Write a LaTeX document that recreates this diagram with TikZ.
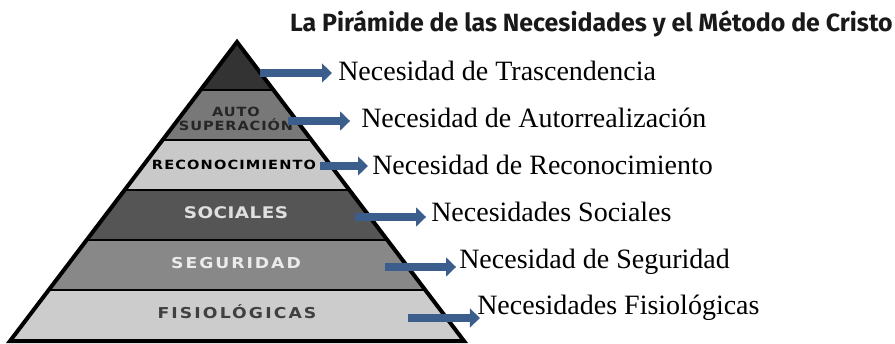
\documentclass[tikz,border=0pt]{standalone}
\usepackage{fontspec}
\setmainfont{Liberation Serif}
\newfontfamily\titlefont{Fira Sans}
\newfontfamily\bandfont[FakeStretch=1.15]{DejaVu Sans}
\usetikzlibrary{arrows.meta,calc,positioning}
\definecolor{needblue}{RGB}{59,94,140}
\definecolor{bandA}{RGB}{51,51,51}
\definecolor{bandB}{RGB}{120,120,120}
\definecolor{bandC}{RGB}{201,201,201}
\definecolor{bandD}{RGB}{85,85,85}
\definecolor{bandE}{RGB}{136,136,136}
\definecolor{bandF}{RGB}{204,204,204}
\tikzset{
	need/.style={anchor=base west,inner sep=0pt,font=\fontsize{21}{25}\selectfont},
	needarrow/.style={draw=needblue,line width=6.5pt,-{Triangle[length=7.5pt,width=14pt]}},
	bandlabel/.style={anchor=base,inner sep=0pt},
	sep/.style={line width=2.2pt},
}

\begin{document}
\begin{tikzpicture}[x=0.75pt,y=-0.75pt]
	\useasboundingbox (0,0) rectangle (895,343);
	
	% Title
	\node[anchor=base east,inner sep=0pt,text=black!90,font=\titlefont\bfseries\fontsize{18.7}{22}\selectfont] (title) at (893,31) {La Pirámide de las Necesidades y el Método de Cristo};
	
	% Bands of the pyramid
	\fill[bandA] (237,42) -- (273.3,90) -- (200.7,90) -- cycle;
	\fill[bandB] (200.7,90) -- (273.3,90) -- (311.2,140) -- (162.8,140) -- cycle;
	\fill[bandC] (162.8,140) -- (311.2,140) -- (349,190) -- (125,190) -- cycle;
	\fill[bandD] (125,190) -- (349,190) -- (386.8,240) -- (87.2,240) -- cycle;
	\fill[bandE] (87.2,240) -- (386.8,240) -- (424.7,290) -- (49.3,290) -- cycle;
	\fill[bandF] (49.3,290) -- (424.7,290) -- (464,341) -- (10,341) -- cycle;
	
	% Separating lines
	\draw[sep] (200.7,90) -- (273.3,90);
	\draw[sep] (162.8,140) -- (311.2,140);
	\draw[sep] (125,190) -- (349,190);
	\draw[sep] (87.2,240) -- (386.8,240);
	\draw[sep] (49.3,290) -- (424.7,290);
	
	% Outline
	\draw[line width=3pt,line join=miter] (237,42) -- (464,341) -- (10,341) -- cycle;
	
	% Labels in the bands
	\node[bandlabel,text=black!85,font=\bandfont\bfseries\fontsize{9.5}{10}\selectfont\addfontfeatures{LetterSpace=7}] (auto) at (236,116.7) {AUTO};
	\node[bandlabel,text=black!85,font=\bandfont\bfseries\fontsize{9.5}{10}\selectfont\addfontfeatures{LetterSpace=7}] (super) at (236,130.7) {SUPERACIÓN};
	\node[bandlabel,text=black,font=\bandfont\bfseries\fontsize{9.5}{10}\selectfont\addfontfeatures{LetterSpace=9}] (recon) at (234,169.3) {RECONOCIMIENTO};
	\node[bandlabel,text=white!88!black,font=\bandfont\bfseries\fontsize{12}{13}\selectfont\addfontfeatures{LetterSpace=3}] (soc) at (236,218.3) {SOCIALES};
	\node[bandlabel,text=white!92!black,font=\bandfont\bfseries\fontsize{11.25}{12}\selectfont\addfontfeatures{LetterSpace=13}] (seg) at (236,268.3) {SEGURIDAD};
	\node[bandlabel,text=black!75,font=\bandfont\bfseries\fontsize{11.25}{12}\selectfont\addfontfeatures{LetterSpace=14}] (fis) at (237,318.3) {FISIOLÓGICAS};
	
	% Needs
	\node[need] (t1) at (338,80) {Necesidad de Trascendencia};
	\node[need] (t2) at (361,127.3) {Necesidad de Autorrealización};
	\node[need] (t3) at (372,174) {Necesidad de Reconocimiento};
	\node[need] (t4) at (431,221) {Necesidades Sociales};
	\node[need] (t5) at (459,268.5) {Necesidad de Seguridad};
	\node[need] (t6) at (477,314.5) {Necesidades Fisiológicas};
	
	% Arrows
	\coordinate (s1) at (260,73);
	\coordinate (s2) at (288,121);
	\coordinate (s3) at (320,166);
	\coordinate (s4) at (355,217);
	\coordinate (s5) at (385,267);
	\coordinate (s6) at (408,318);
	\draw[needarrow,shorten >=4.5pt] (s1) -- (s1 -| t1.west);
	\draw[needarrow,shorten >=8.2pt] (s2) -- (s2 -| t2.west);
	\draw[needarrow,shorten >=3pt] (s3) -- (s3 -| t3.west);
	\draw[needarrow,shorten >=3.7pt] (s4) -- (s4 -| t4.west);
	\draw[needarrow,shorten >=2.2pt] (s5) -- (s5 -| t5.west);
	\draw[needarrow,shorten >=-2.2pt] (s6) -- (s6 -| t6.west);
\end{tikzpicture}
\end{document}
